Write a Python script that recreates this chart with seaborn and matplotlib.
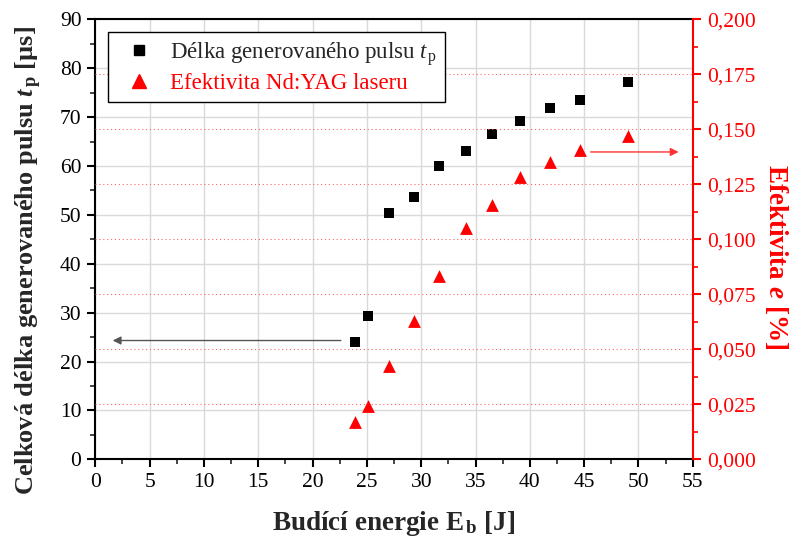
import numpy as np
import pandas as pd
import matplotlib
matplotlib.use("Agg")
import matplotlib.pyplot as plt
import seaborn as sns
from matplotlib.ticker import MultipleLocator, FuncFormatter
from matplotlib.lines import Line2D

# ---- data ----
energy = [23.9, 25.1, 27.0, 29.3, 31.6, 34.1, 36.5, 39.1, 41.9, 44.6, 49.0]
pulse_len = [23.9, 29.3, 50.4, 53.7, 60.0, 63.0, 66.6, 69.3, 71.9, 73.5, 77.2]
efficiency = [0.0171, 0.0244, 0.0425, 0.0630, 0.0835, 0.1053, 0.1156, 0.1285, 0.1350, 0.1407, 0.1471]

x_ticks = list(range(0, 56, 5))
left_ticks = list(range(0, 91, 10))
right_ticks = [0.0, 0.025, 0.05, 0.075, 0.1, 0.125, 0.15, 0.175, 0.2]

lbl_pulse = r"Délka generovaného pulsu $\mathit{t}_{\,\mathrm{p}}$"
lbl_eff = "Efektivita Nd:YAG laseru"

df = pd.DataFrame({"E": energy, "t": pulse_len, "e": efficiency})

sns.set_style("ticks")
plt.rcParams["font.family"] = ["Liberation Serif", "DejaVu Serif"]
plt.rcParams["mathtext.fontset"] = "custom"
plt.rcParams["mathtext.rm"] = "Liberation Serif"
plt.rcParams["mathtext.it"] = "Liberation Serif:italic"
plt.rcParams["mathtext.bf"] = "Liberation Serif:bold"
plt.rcParams["mathtext.bfit"] = "Liberation Serif:bold:italic"

fig = plt.figure(figsize=(7.91, 5.45), dpi=100)
ax = fig.add_axes([0.1205, 0.1572, 0.8758 - 0.1205, 0.9646 - 0.1572])
ax2 = ax.twinx()

sns.scatterplot(data=df, x="E", y="t", ax=ax, marker="s", color="black",
                s=46, linewidth=0, zorder=5)
sns.scatterplot(data=df, x="E", y="e", ax=ax2, marker="^", color="#ff0000",
                s=85, linewidth=0, zorder=5)

ax.set_xlim(0, 55)
ax.set_ylim(0, 90)
ax2.set_ylim(0, 0.2)
ax.set_xticks(x_ticks)
ax.set_yticks(left_ticks)
ax2.set_yticks(right_ticks)
ax.xaxis.set_minor_locator(MultipleLocator(2.5))
ax.yaxis.set_minor_locator(MultipleLocator(5))
ax2.yaxis.set_minor_locator(MultipleLocator(0.0125))
ax2.yaxis.set_major_formatter(FuncFormatter(lambda v, p: f"{v:.3f}".replace(".", ",")))

# grids
ax.grid(True, which="major", color="#d9d9d9", linewidth=1.0, linestyle="-")
ax.set_axisbelow(True)
ax2.grid(True, axis="y", which="major", color="#ff6666", linewidth=0.8, linestyle=(0, (1, 2.5)))
ax2.set_axisbelow(True)
for gl, v in zip(ax2.yaxis.get_gridlines(), ax2.get_yticks()):
    if v <= 0.0 or v >= 0.2:
        gl.set_visible(False)

# spines
for s in ["left", "bottom", "top"]:
    ax.spines[s].set_color("black")
    ax.spines[s].set_linewidth(1.5)
ax.spines["right"].set_visible(False)
for s in ["left", "bottom", "top"]:
    ax2.spines[s].set_visible(False)
ax2.spines["right"].set_visible(True)
ax2.spines["right"].set_color("#ff0000")
ax2.spines["right"].set_linewidth(1.5)

ax.tick_params(axis="both", which="major", direction="out", length=6, width=1.5,
               labelsize=15.5, colors="black", top=False, right=False, pad=4)
ax.tick_params(axis="both", which="minor", direction="out", length=3.5, width=1.2,
               top=False, right=False)
ax2.tick_params(axis="y", which="major", direction="out", length=6, width=1.5,
                labelsize=15.5, colors="#ff0000", pad=4)
ax2.tick_params(axis="y", which="minor", direction="out", length=3.5, width=1.2,
                colors="#ff0000")

ax.set_xlabel(r"Budící energie E$_{\,\mathbf{b}}$ [J]", fontsize=19.5, fontweight="bold", labelpad=12)
ax.set_ylabel(r"Celková délka generovaného pulsu $\mathbfit{t}_{\,\mathbf{p}}$ [µs]",
              fontsize=19, fontweight="bold")
ax.yaxis.set_label_coords(-0.086, 0.452)
ax2.set_ylabel(r"Efektivita $\mathbfit{e}$ [%]", fontsize=19.5, fontweight="bold",
               color="#ff0000", rotation=270, va="bottom")
ax2.yaxis.set_label_coords(1.118, 0.46)

# arrows
ax.annotate("", xy=(1.6, 24.3), xytext=(22.6, 24.3),
            arrowprops=dict(arrowstyle="-|>", color="#555555", lw=1.0,
                            mutation_scale=12, shrinkA=0, shrinkB=0), zorder=4)
ax2.annotate("", xy=(53.7, 0.1397), xytext=(45.6, 0.1397),
             arrowprops=dict(arrowstyle="-|>", color="#ff3333", lw=1.0,
                             mutation_scale=12, shrinkA=0, shrinkB=0), zorder=4)

handles = [
    Line2D([], [], marker="s", color="black", linestyle="none", markersize=6.5),
    Line2D([], [], marker="^", color="#ff0000", linestyle="none", markersize=9.5),
]
leg = ax2.legend(handles, [lbl_pulse, lbl_eff], loc="upper left",
                 bbox_to_anchor=(0.0, 1.0), fontsize=16.5, frameon=True,
                 fancybox=False, edgecolor="black", framealpha=1,
                 handlelength=2.0, handletextpad=0.35, borderpad=0.35,
                 labelspacing=0.22, borderaxespad=0.55)
leg.get_frame().set_linewidth(1.0)
leg.texts[1].set_color("#ff0000")
leg.set_zorder(10)

fig.savefig("out.png", dpi=100)
